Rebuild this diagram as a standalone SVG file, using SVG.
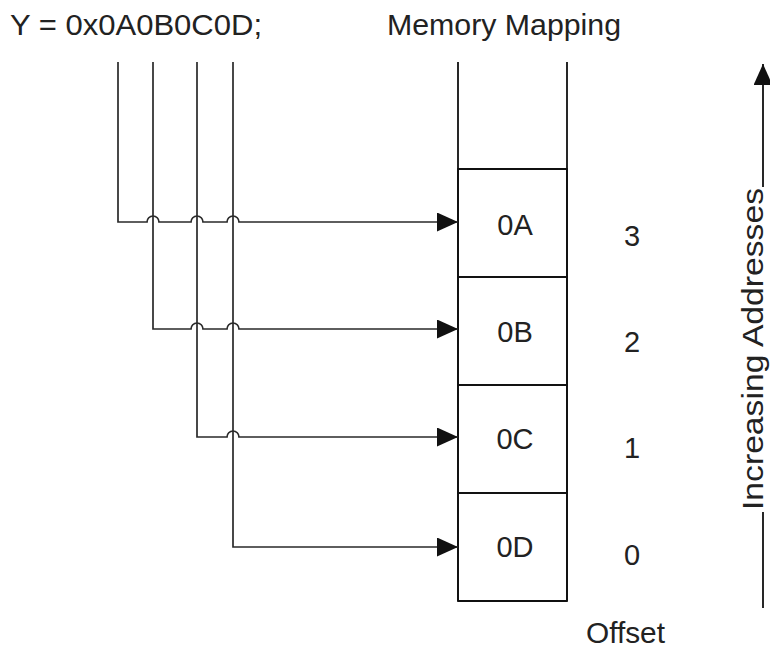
<svg xmlns="http://www.w3.org/2000/svg" width="770" height="648" viewBox="0 0 770 648">
<style>
text{font-family:"Liberation Sans",Arial,sans-serif;font-size:29px;fill:#222}
.w{fill:none;stroke:#2a2a2a;stroke-width:1.7}
.b{fill:none;stroke:#111;stroke-width:1.8}
.m{text-anchor:middle}
</style>
<defs>
<marker id="ah" markerUnits="userSpaceOnUse" markerWidth="21" markerHeight="19" refX="21" refY="9.5" orient="auto">
<polygon points="0,0 21,9.5 0,19" fill="#111"/>
</marker>
</defs>
<rect width="770" height="648" fill="#fff"/>
<text id="title-y" x="10" y="35" textLength="252" lengthAdjust="spacingAndGlyphs">Y = 0x0A0B0C0D;</text>
<text id="title-mem" x="387" y="35" textLength="234" lengthAdjust="spacingAndGlyphs">Memory Mapping</text>
<g id="memory">
<path class="b" d="M458,62 V601 M567,62 V601 M458,169 H567 M458,601 H567"/>
</g>
<g id="cell-0A"><rect x="458" y="169" width="109" height="108" class="b"/><text class="m" x="515" y="235">0A</text></g>
<g id="cell-0B"><rect x="458" y="277" width="109" height="108" class="b"/><text class="m" x="515" y="342">0B</text></g>
<g id="cell-0C"><rect x="458" y="385" width="109" height="108" class="b"/><text class="m" x="515" y="449">0C</text></g>
<g id="cell-0D"><rect x="458" y="493" width="109" height="108" class="b"/><text class="m" x="515" y="557">0D</text></g>
<g id="offsets">
<text class="m" x="632" y="246">3</text>
<text class="m" x="632" y="352">2</text>
<text class="m" x="632" y="458">1</text>
<text class="m" x="632" y="565">0</text>
<text id="offset-label" x="586" y="643" textLength="79" lengthAdjust="spacingAndGlyphs">Offset</text>
</g>
<g id="connectors">
<path class="w" marker-end="url(#ah)" d="M118,62 V222 H147 a6,6 0 0 1 12,0 H191 a6,6 0 0 1 12,0 H227 a6,6 0 0 1 12,0 H458"/>
<path class="w" marker-end="url(#ah)" d="M153,62 V329 H191 a6,6 0 0 1 12,0 H227 a6,6 0 0 1 12,0 H458"/>
<path class="w" marker-end="url(#ah)" d="M197,62 V437 H227 a6,6 0 0 1 12,0 H458"/>
<path class="w" marker-end="url(#ah)" d="M233,62 V547 H458"/>
</g>
<g id="increasing-addresses">
<path class="b" d="M763,608 V512 M763,187 V64" marker-end="url(#ah)"/>
<text transform="translate(763,349) rotate(-90)" class="m" x="0" y="0" textLength="322" lengthAdjust="spacingAndGlyphs">Increasing Addresses</text>
</g>
</svg>
